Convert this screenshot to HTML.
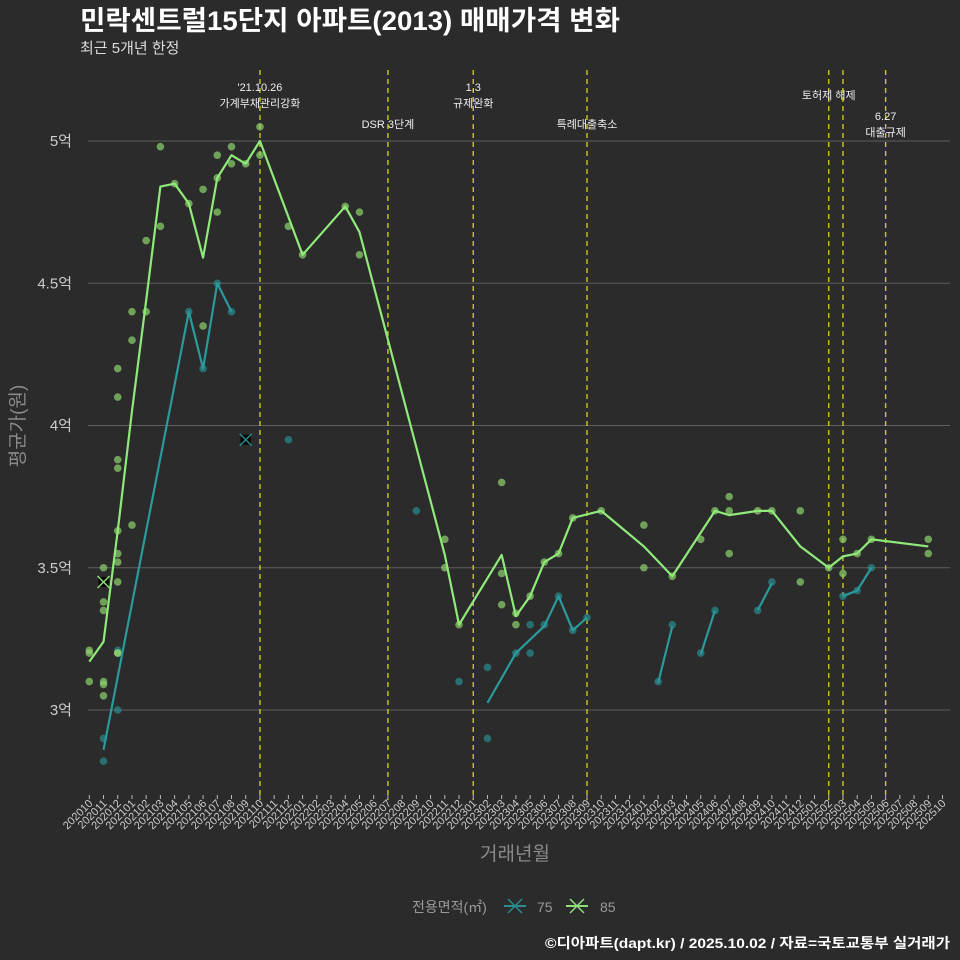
<!DOCTYPE html>
<html><head><meta charset="utf-8">
<style>
body{margin:0;background:#2b2b2b;}
svg{display:block;font-family:"Liberation Sans","Noto Sans CJK KR",sans-serif;}
</style></head>
<body>
<svg id="chart" width="960" height="960" viewBox="0 0 960 960">
<rect width="960" height="960" fill="#2b2b2b"/>
<text x="80" y="30" fill="#ffffff" font-size="27" font-weight="bold" textLength="540" lengthAdjust="spacingAndGlyphs">민락센트럴15단지 아파트(2013) 매매가격 변화</text>
<text x="80" y="53" fill="#dddddd" font-size="15">최근 5개년 한정</text>
<g id="grid"></g>
<g id="events"></g>
<g id="xaxis"></g>
<g id="dots"></g>
<g id="lines"></g>
<text x="515" y="860" fill="#8a8a8a" font-size="19" text-anchor="middle">거래년월</text>
<text transform="translate(24,426) rotate(-90)" fill="#8a8a8a" font-size="19" text-anchor="middle">평균가(원)</text>
<g>
<text x="412" y="912" fill="#9a9a9a" font-size="14">전용면적(㎡)</text>
<g>
<line x1="504" y1="906" x2="526" y2="906" stroke="#2a8c8e" stroke-width="2"/>
<line x1="508" y1="899" x2="522" y2="913" stroke="#2a8c8e" stroke-width="1.5"/>
<line x1="508" y1="913" x2="522" y2="899" stroke="#2a8c8e" stroke-width="1.5"/>
<text x="537" y="912" fill="#9a9a9a" font-size="14">75</text>
</g>
<g>
<line x1="566" y1="906" x2="588" y2="906" stroke="#8fe07a" stroke-width="2"/>
<line x1="570" y1="899" x2="584" y2="913" stroke="#8fe07a" stroke-width="1.5"/>
<line x1="570" y1="913" x2="584" y2="899" stroke="#8fe07a" stroke-width="1.5"/>
<text x="600" y="912" fill="#9a9a9a" font-size="14">85</text>
</g>
</g>
<text x="545" y="948" fill="#ffffff" font-size="14" font-weight="bold" textLength="405" lengthAdjust="spacingAndGlyphs">©디아파트(dapt.kr) / 2025.10.02 / 자료=국토교통부 실거래가</text>
</svg>
<script>
const months = [];
for (let y = 2020, m = 10; !(y === 2025 && m === 11); ) { months.push(String(y) + String(m).padStart(2,'0')); m++; if (m > 12) { m = 1; y++; } }
const yTicks = [3, 3.5, 4, 4.5, 5];
const yTickLabels = ['3억','3.5억','4억','4.5억','5억'];
const line75 = [[1,2.86],[7,4.40],[8,4.20],[9,4.50],[10,4.40],null,[28,3.025],[30,3.20],[32,3.295],[33,3.40],[34,3.28],[35,3.325],null,[40,3.095],[41,3.295],null,[43,3.195],[44,3.35],null,[47,3.35],[48,3.445],null,[53,3.40],[54,3.42],[55,3.50]];
const line85 = [[0,3.17],[1,3.24],[2,3.63],[3,4.05],[4,4.44],[5,4.84],[6,4.85],[7,4.78],[8,4.59],[9,4.87],[10,4.95],[11,4.92],[12,5.0],[15,4.60],[18,4.77],[19,4.68],[25,3.545],[26,3.30],[29,3.545],[30,3.33],[31,3.40],[32,3.52],[33,3.55],[34,3.675],[36,3.70],[39,3.575],[41,3.47],[44,3.70],[45,3.685],[47,3.70],[48,3.70],[50,3.575],[52,3.50],[53,3.54],[54,3.55],[55,3.60],[59,3.575]];
const dots75 = [[1,2.90],[1,2.82],[2,3.00],[2,3.21],[7,4.40],[8,4.20],[9,4.50],[10,4.40],[14,3.95],[23,3.70],[26,3.10],[28,3.15],[28,2.90],[30,3.20],[31,3.30],[31,3.20],[32,3.30],[33,3.40],[34,3.28],[35,3.325],[40,3.10],[41,3.30],[43,3.20],[44,3.35],[47,3.35],[48,3.45],[53,3.40],[54,3.42],[55,3.50]];
const dots85 = [[0,3.20],[0,3.10],[0,3.21],[1,3.50],[1,3.38],[1,3.35],[1,3.10],[1,3.09],[1,3.05],[2,4.20],[2,4.10],[2,3.88],[2,3.85],[2,3.63],[2,3.55],[2,3.52],[2,3.45],[2,3.20],[2,3.20],[3,4.40],[3,4.30],[3,3.65],[4,4.65],[4,4.40],[5,4.98],[5,4.70],[6,4.85],[7,4.78],[8,4.83],[8,4.35],[9,4.95],[9,4.87],[9,4.75],[10,4.98],[10,4.92],[11,4.92],[12,5.05],[12,4.95],[14,4.70],[15,4.60],[18,4.77],[19,4.75],[19,4.60],[25,3.60],[25,3.50],[26,3.30],[29,3.80],[29,3.48],[29,3.37],[30,3.34],[30,3.30],[31,3.40],[32,3.52],[33,3.55],[34,3.675],[36,3.70],[39,3.65],[39,3.50],[41,3.47],[43,3.60],[44,3.70],[45,3.75],[45,3.70],[45,3.55],[47,3.70],[48,3.70],[50,3.70],[50,3.45],[52,3.50],[53,3.60],[53,3.48],[54,3.55],[55,3.60],[59,3.60],[59,3.55]];
const cancel75 = [[11,3.95]];
const cancel85 = [[1,3.45]];
const eventMonths = [12,21,27,35,52,53,56];
const eventLabels = [["'21.10.26","가계부채관리강화"],["DSR 3단계"],["1.3","규제완화"],["특례대출축소"],["토허제 해제"],[],["6.27","대출규제"]];
const eventLabelY = [91,128,91,128,99,0,120];

const NS = 'http://www.w3.org/2000/svg';
const X = i => 89.3 + 14.22 * i;
const Y = v => 141 + (5 - v) * 284.5;
function mk(tag, attrs, parent, txt) { const e = document.createElementNS(NS, tag); for (const k in attrs) e.setAttribute(k, attrs[k]); if (txt !== undefined) e.textContent = txt; parent.appendChild(e); return e; }
const grid = document.getElementById('grid');
yTicks.forEach((v, k) => {
  const l = mk('line', {x1: 88, x2: 950, y1: Y(v), y2: Y(v), stroke: '#5e5e5e', 'stroke-width': 1}, grid);
  
  
  const t = mk('text', {x: 72, y: Y(v) + 5, fill: '#cccccc', 'font-size': 15, 'text-anchor': 'end'}, grid, yTickLabels[k]);
  
  
});
const ev = document.getElementById('events');
eventMonths.forEach((m, k) => {
  const l = mk('line', {x1: X(m), x2: X(m), y1: 70, y2: 800, stroke: '#c8c81e', 'stroke-width': 1.4, 'stroke-dasharray': '5,4'}, ev);
  
  
  eventLabels[k].forEach((s, j) => {
    const t = mk('text', {x: X(m), y: eventLabelY[k] + j * 16, fill: '#eeeeee', 'font-size': 11, 'text-anchor': 'middle'}, ev, s);
    
    
  });
});
const xa = document.getElementById('xaxis');
months.forEach((m, i) => {
  const tk = mk('line', {x1: X(i), x2: X(i), y1: 795, y2: 799, stroke: '#bbbbbb', 'stroke-width': 1}, xa);
  
  
  const t = mk('text', {transform: `translate(${X(i)+4},804) rotate(-45)`, fill: '#cccccc', 'font-size': 11, 'text-anchor': 'end'}, xa, m);
  
  
});
const dg = document.getElementById('dots');
[[dots75, '#2a8c8e', 'dot-75'], [dots85, '#8fd46e', 'dot-85']].forEach(([arr, c, nm]) => arr.forEach(([i, v]) => {
  const d = mk('circle', {cx: X(i), cy: Y(v), r: 3.8, fill: c, 'fill-opacity': 0.7}, dg);
  
  
}));
[[cancel75, '#2a8c8e', 'cancelled-75'], [cancel85, '#8fe07a', 'cancelled-85']].forEach(([arr, c, nm]) => arr.forEach(([i, v]) => {
  const g = mk('g', {stroke: c, 'stroke-width': 1.5}, dg);
  
  
  mk('rect', {x: X(i)-5, y: Y(v)-5, width: 10, height: 10, fill: '#000', stroke: 'none'}, g);
  mk('line', {x1: X(i)-6, y1: Y(v)-6, x2: X(i)+6, y2: Y(v)+6}, g);
  mk('line', {x1: X(i)-6, y1: Y(v)+6, x2: X(i)+6, y2: Y(v)-6}, g);
}));
const lg = document.getElementById('lines');
[[line75, '#2a9a9c', 'line-75'], [line85, '#90ea7a', 'line-85']].forEach(([arr, c, nm]) => {
  let segs = [[]];
  arr.forEach(p => { if (p === null) segs.push([]); else segs[segs.length-1].push(p); });
  segs.forEach(s => {
    if (s.length < 2) return;
    const pl = mk('polyline', {points: s.map(([i, v]) => X(i) + ',' + Y(v)).join(' '), fill: 'none', stroke: c, 'stroke-width': 2.2, 'stroke-linejoin': 'round'}, lg);
    
    
  });
});
</script>
</body></html>
